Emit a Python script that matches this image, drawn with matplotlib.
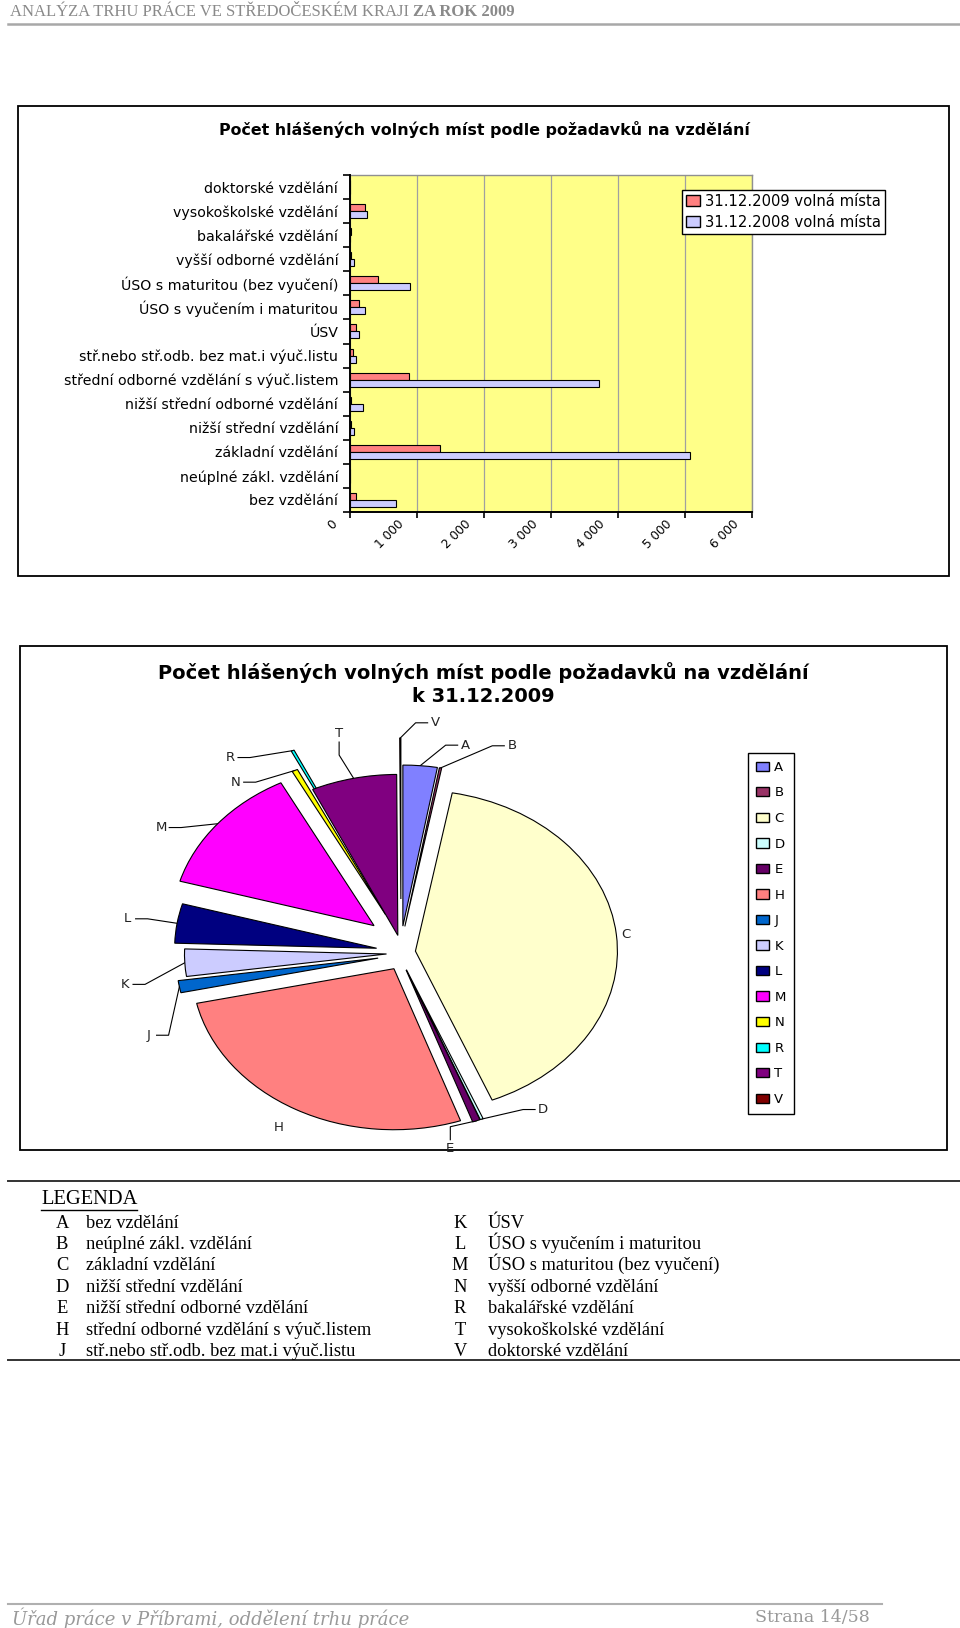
import numpy as np
import matplotlib
matplotlib.use("Agg")
import matplotlib.pyplot as plt
from matplotlib.patches import Patch, Rectangle
import matplotlib.transforms as mtransforms

# ---------------- data ----------------
codes = ["A", "B", "C", "D", "E", "H", "J", "K", "L", "M", "N", "R", "T", "V"]
categories = [
    "bez vzdělání",
    "neúplné zákl. vzdělání",
    "základní vzdělání",
    "nižší střední vzdělání",
    "nižší střední odborné vzdělání",
    "střední odborné vzdělání s výuč.listem",
    "stř.nebo stř.odb. bez mat.i výuč.listu",
    "ÚSV",
    "ÚSO s vyučením i maturitou",
    "ÚSO s maturitou (bez vyučení)",
    "vyšší odborné vzdělání",
    "bakalářské vzdělání",
    "vysokoškolské vzdělání",
    "doktorské vzdělání",
]
series_2009 = [90, 6, 1345, 8, 20, 885, 40, 90, 130, 425, 15, 8, 225, 3]
series_2008 = [690, 0, 5080, 60, 190, 3720, 90, 140, 220, 890, 60, 0, 255, 0]
series_labels = ["31.12.2009 volná místa", "31.12.2008 volná místa"]
x_ticks = [0, 1000, 2000, 3000, 4000, 5000, 6000]
x_tick_labels = ["0", "1 000", "2 000", "3 000", "4 000", "5 000", "6 000"]
bar_title = "Počet hlášených volných míst podle požadavků na vzdělání"
pie_title = ["Počet hlášených volných míst podle požadavků na vzdělání", "k 31.12.2009"]
header_plain = "ANALÝZA TRHU PRÁCE VE STŘEDOČESKÉM KRAJI "
header_bold = "ZA ROK 2009"
footer_left = "Úřad práce v Příbrami, oddělení trhu práce"
footer_right = "Strana 14/58"
legend_heading = "LEGENDA"

# ---------------- styles / layout ----------------
bar_colors = ["#FF8080", "#CCCCFF"]
pie_colors = ["#8080FF", "#993366", "#FFFFCC", "#CCFFFF", "#660066", "#FF8080",
              "#0066CC", "#CCCCFF", "#000080", "#FF00FF", "#FFFF00", "#00FFFF",
              "#800080", "#800000"]
explode_mult = [1.5, 1.5, 1.0, 1.0, 1.0, 1.0, 1.6, 1.0, 1.7, 2.4, 2.4, 3.5, 1.0, 3.0]
label_nudge = [9, 13, 0, -14, 9, 0, -12, -5, 0, -6, -11, -9.5, 0, 7]
label_radius = [1.33, 1.40, 1.12, 1.20, 1.24, 1.24, 1.35, 1.38, 1.37, 1.42, 1.34, 1.48, 1.40, 1.44]
label_leader = [True, True, False, True, True, False, True, True, True, True, True, True, True, True]

W, H, DPI = 960, 1628, 100
plt.rcParams["font.family"] = ["DejaVu Sans"]

fig = plt.figure(figsize=(W / DPI, H / DPI), dpi=DPI)
fig.patch.set_facecolor("white")

bg = fig.add_axes([0, 0, 1, 1])
bg.set_xlim(0, W)
bg.set_ylim(H, 0)
bg.axis("off")


def fig_rect(l, t, r, b):
    return [l / W, 1 - b / H, (r - l) / W, (b - t) / H]


# ---------------- header / footer ----------------
serif = ["Liberation Serif", "DejaVu Serif"]
t1 = bg.text(10, 12, header_plain, color="#8a8a8a", family=serif, fontsize=12, va="center", ha="left")
bg.annotate(header_bold, xy=(1, 0.5), xycoords=t1, va="center", ha="left",
            color="#8a8a8a", family=serif, fontsize=12, weight="bold")
bg.plot([8, 960], [23.5, 23.5], color="#a8a8a8", lw=1.8)

bg.plot([8, 882], [1604, 1604], color="#b0b0b0", lw=1.5)
bg.text(12, 1618, footer_left, color="#999999", family=["DejaVu Serif"], style="italic",
        fontsize=13, va="center", ha="left")
bg.text(870, 1618, footer_right, color="#999999", family=["DejaVu Serif"],
        fontsize=12.5, va="center", ha="right")

# ---------------- bar chart ----------------
bg.add_patch(Rectangle((17.6, 106), 931, 470, fill=False, ec="black", lw=1.3))
bg.text(484, 129, bar_title, ha="center", va="center", fontsize=11.4, weight="bold")

ax = fig.add_axes(fig_rect(350, 175, 752, 512))
ax.set_facecolor("#FFFF88")
y = np.arange(len(categories))
bh = 0.29
ax.barh(y + bh / 2, series_2009, height=bh, color=bar_colors[0], edgecolor="black",
        linewidth=0.8, zorder=2, label=series_labels[0])
ax.barh(y - bh / 2, series_2008, height=bh, color=bar_colors[1], edgecolor="black",
        linewidth=0.8, zorder=2, label=series_labels[1])
ax.set_xlim(0, 6000)
ax.set_ylim(-0.5, len(categories) - 0.5)
ax.set_yticks(y)
ax.set_yticklabels(categories, fontsize=10.2)
ax.set_yticks(np.arange(-0.5, len(categories)), minor=True)
ax.tick_params(axis="y", which="major", length=0, pad=8.5)
ax.tick_params(axis="y", which="minor", length=5, width=1.2, direction="out", color="black")
ax.set_xticks(x_ticks)
ax.set_xticklabels(x_tick_labels, fontsize=8.7)
ax.tick_params(axis="x", length=4, width=1.2, pad=0)
ax.xaxis.grid(True, color="#A0A0A0", lw=0.9)
ax.set_axisbelow(True)
for s in ["top", "right"]:
    ax.spines[s].set_color("#909090")
    ax.spines[s].set_linewidth(1.0)
for s in ["left", "bottom"]:
    ax.spines[s].set_color("black")
    ax.spines[s].set_linewidth(1.4)
    ax.spines[s].set_zorder(3)
off = mtransforms.ScaledTranslation(-15 / DPI, -5 / DPI, fig.dpi_scale_trans)
for lab in ax.get_xticklabels():
    lab.set_rotation(45)
    lab.set_ha("right")
    lab.set_va("center")
    lab.set_rotation_mode("anchor")
    lab.set_transform(lab.get_transform() + off)

leg = ax.legend(handles=[Patch(fc=bar_colors[0], ec="black", label=series_labels[0]),
                         Patch(fc=bar_colors[1], ec="black", label=series_labels[1])],
                loc="upper left", bbox_to_anchor=(682 / W, 1 - 190 / H),
                bbox_transform=fig.transFigure, fontsize=10.6, frameon=True, fancybox=False,
                framealpha=1, edgecolor="black", borderpad=0.25, handlelength=1.0,
                handleheight=0.75, handletextpad=0.3, labelspacing=0.42, borderaxespad=0)
leg.get_frame().set_linewidth(1.0)
leg.set_zorder(5)

# ---------------- pie chart ----------------
bg.add_patch(Rectangle((20, 645.5), 926.6, 504.5, fill=False, ec="black", lw=1.3))
bg.text(483, 672.5, pie_title[0], ha="center", va="center", fontsize=14, weight="bold")
bg.text(483, 696.5, pie_title[1], ha="center", va="center", fontsize=14, weight="bold")

cx, cy, rx, ry = 401, 953, 202, 161
ox, oy = 14.5, 18.0   # base explosion offsets in pixels
axp = fig.add_axes(fig_rect(cx - 1.6 * rx, cy - 1.6 * ry, cx + 1.6 * rx, cy + 1.6 * ry))
wedges, _ = axp.pie(series_2009, colors=pie_colors, startangle=90, counterclock=False,
                    wedgeprops=dict(edgecolor="black", linewidth=0.8))
axp.set_aspect("auto")
axp.set_xlim(-1.6, 1.6)
axp.set_ylim(-1.6, 1.6)
axp.axis("off")

vals = np.asarray(series_2009, dtype=float)
ang_end = np.cumsum(vals) / vals.sum() * 360.0
ang_start = ang_end - vals / vals.sum() * 360.0
mid = (ang_start + ang_end) / 2.0
for w, m, k in zip(wedges, mid, explode_mult):
    th = np.radians(m)
    w.set_center((k * ox * np.sin(th) / rx, k * oy * np.cos(th) / ry))

for i, code in enumerate(codes):
    th = np.radians(mid[i])
    k = explode_mult[i]
    ex = cx + (k * ox + rx) * np.sin(th)
    ey = cy - (k * oy + ry) * np.cos(th)
    tl = np.radians(mid[i] + label_nudge[i])
    lx = cx + label_radius[i] * rx * np.sin(tl)
    ly = cy - label_radius[i] * ry * np.cos(tl)
    bg.text(lx, ly, code, ha="center", va="center", fontsize=9.5, color="#222222")
    if label_leader[i]:
        dx = lx - ex
        if abs(dx) < 30:
            s = 1 if ly < ey else -1
            pts = [(ex, ey), (lx, ly + s * 22), (lx, ly + s * 9)]
        else:
            side = 1 if dx > 0 else -1
            axx = lx - side * 8
            el = axx - side * 12
            pts = [(ex, ey), (el, ly), (axx, ly)]
        xs, ys = zip(*pts)
        bg.plot(xs, ys, color="black", lw=0.8)

pleg = fig.legend(handles=[Patch(fc=c, ec="black", label=k) for c, k in zip(pie_colors, codes)],
                  loc="upper left", bbox_to_anchor=(748 / W, 1 - 753 / H),
                  bbox_transform=fig.transFigure, fontsize=9.5, frameon=True, fancybox=False,
                  framealpha=1, edgecolor="black", borderpad=0.6, handlelength=1.0,
                  handleheight=0.7, handletextpad=0.4, labelspacing=0.95,
                  borderaxespad=0)
pleg.get_frame().set_linewidth(1.0)

# ---------------- LEGENDA section ----------------
bg.plot([8, 960], [1181, 1181], color="#333333", lw=1.4)
bg.plot([8, 960], [1360, 1360], color="#333333", lw=1.4)
lt = bg.text(41, 1203.5, legend_heading, family=serif, fontsize=14.8, va="baseline", ha="left")
fig.canvas.draw()
bb = lt.get_window_extent(fig.canvas.get_renderer())
bg.plot([bb.x0, bb.x1], [H - bb.y0 + 1, H - bb.y0 + 1], color="black", lw=1.0)

half = (len(codes) + 1) // 2
for i, (code, cat) in enumerate(zip(codes, categories)):
    row = i % half
    yy = 1227.5 + row * 21.45
    if i < half:
        cxl, tx = 62, 86
    else:
        cxl, tx = 460, 488
    bg.text(cxl, yy, code, family=serif, fontsize=13.3, va="baseline", ha="center")
    bg.text(tx, yy, cat, family=serif, fontsize=13.3, va="baseline", ha="left")

fig.savefig("out.png", dpi=DPI, facecolor="white")
